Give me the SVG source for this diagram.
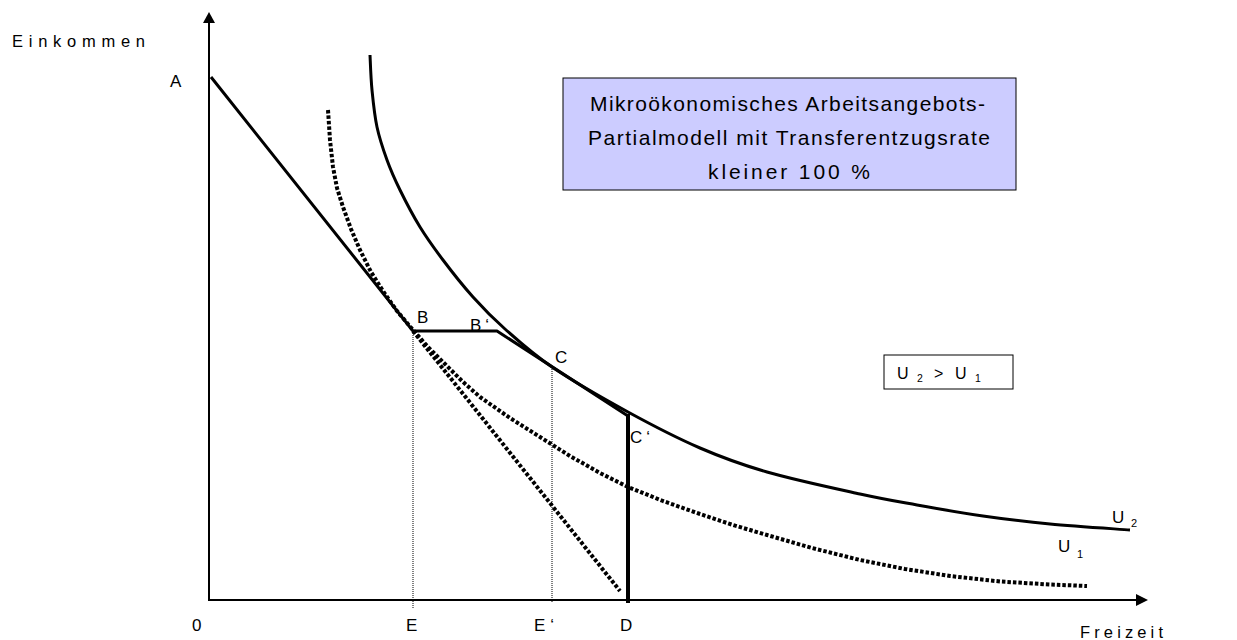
<svg xmlns="http://www.w3.org/2000/svg" width="1237" height="640" viewBox="0 0 1237 640">
<style>
.t{font-family:"Liberation Sans",Arial,sans-serif;fill:#000}
.lbl{font-size:17px}
.ax{stroke:#000;stroke-width:2;fill:none}
.solid{stroke:#000;stroke-width:3;fill:none;stroke-linejoin:round}
.dots{stroke:#000;stroke-width:4;fill:none;stroke-dasharray:3.5 2}
.thin{stroke:#000;stroke-width:1;fill:none;stroke-dasharray:1 1}
</style>
<rect width="1237" height="640" fill="#fff"/>
<g id="axes">
<line class="ax" x1="209" y1="601" x2="209" y2="20"/>
<polygon points="209,12 203,23 215,23" fill="#000"/>
<line class="ax" x1="208" y1="600" x2="1140" y2="600"/>
<polygon points="1148,600 1136,594 1136,606" fill="#000"/>
<text class="t" x="12" y="47" font-size="16.5" textLength="133" lengthAdjust="spacing">Einkommen</text>
<text class="t" x="1080" y="638" font-size="16.5" textLength="83" lengthAdjust="spacing">Freizeit</text>
</g>
<g id="connectors">
<polyline class="solid" points="211,77 413,331 497,331 628,416"/>
<line x1="628" y1="414" x2="628" y2="603" stroke="#000" stroke-width="4"/>
<line class="dots" x1="413" y1="331" x2="620" y2="591"/>
<line class="thin" x1="413" y1="331" x2="413" y2="609"/>
<line class="thin" x1="552" y1="367" x2="552" y2="603"/>
<path id="U2" class="solid" d="M370,55 C370.3,60.8 370.8,78 372,90 C373.2,102 374.5,115.3 377,127 C379.5,138.7 383.2,149.5 387,160 C390.8,170.5 394.5,178.8 400,190 C405.5,201.2 412.8,215.3 420,227 C427.2,238.7 434.2,248.3 443,260 C451.8,271.7 462.7,285.5 473,297 C483.3,308.5 491.8,317.3 505,329 C518.2,340.7 531.5,353 552,367 C572.5,380.8 603.3,398.5 628,412 C652.7,425.5 676.8,438 700,448 C723.2,458 740.3,464.3 767,472 C793.7,479.7 835,488.5 860,494 C885,499.5 896.5,501.3 917,505 C937.5,508.7 960.8,512.8 983,516 C1005.2,519.2 1025.5,521.7 1050,524 C1074.5,526.3 1116.7,529 1130,530"/>
<polyline id="U1" class="dots" stroke-linejoin="round" points="328,110 330,140 333,167 337,188 343,207 351,229 360,250 371,272 383,291 397,311 413,330 428,347 445,364 462,381 480,397 510,418 540,437 570,456 600,473 628,487 663,501 700,514 733,525 767,535 812,548 860,560 905,569 950,576 1000,581.5 1050,584.5 1087,586"/>
</g>
<g id="labels">
<text class="t lbl" x="170" y="87">A</text>
<text class="t lbl" x="417" y="323">B</text>
<text class="t lbl" x="470" y="331" letter-spacing="4">B‘</text>
<text class="t lbl" x="555" y="363">C</text>
<text class="t lbl" x="630" y="443" letter-spacing="4">C‘</text>
<text class="t lbl" x="192" y="631">0</text>
<text class="t lbl" x="406" y="631">E</text>
<text class="t lbl" x="534" y="631" letter-spacing="5">E‘</text>
<text class="t lbl" x="620" y="631">D</text>
<text class="t" x="1112" y="523" font-size="17">U<tspan x="1131" y="527" font-size="11">2</tspan></text>
<text class="t" x="1058" y="552" font-size="17">U<tspan x="1077" y="558" font-size="11">1</tspan></text>
</g>
<g id="title">
<rect x="563" y="78" width="453" height="112" fill="#ccccff" stroke="#000" stroke-width="1"/>
<text class="t" font-size="21" x="590" y="111" textLength="395" lengthAdjust="spacing">Mikroökonomisches Arbeitsangebots-</text>
<text class="t" font-size="21" x="588" y="145" textLength="402" lengthAdjust="spacing">Partialmodell mit Transferentzugsrate</text>
<text class="t" font-size="21" x="708" y="179" textLength="162" lengthAdjust="spacing">kleiner 100 %</text>
</g>
<g id="legend">
<rect x="884" y="355" width="129" height="34" fill="#fff" stroke="#000" stroke-width="1"/>
<text class="t" font-size="16" x="897" y="379">U<tspan x="917" y="382" font-size="10.5">2</tspan><tspan x="934" y="379">&gt;</tspan><tspan x="955" y="379">U</tspan><tspan x="975" y="382" font-size="10.5">1</tspan></text>
</g>
</svg>
